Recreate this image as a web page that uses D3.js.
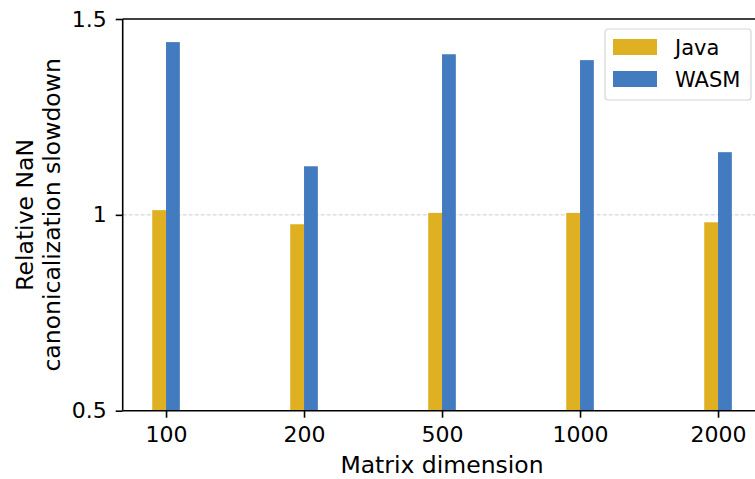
<!DOCTYPE html>
<html lang="en">

<head>
  <meta charset="UTF-8">
  <title>NaN canonicalization slowdown</title>
  <style>
    body { margin: 0; background: #fff; }
    text { font-family: "DejaVu Sans", sans-serif; fill: #000; }
  </style>
</head>

<body>
  <svg width="755" height="479"></svg>

  <script src="https://d3js.org/d3.v7.min.js"></script>
  <script>
    // data
    var dimensions = ["100", "200", "500", "1000", "2000"];
    var javaValues = [1.012, 0.976, 1.005, 1.005, 0.981];
    var wasmValues = [1.441, 1.124, 1.410, 1.395, 1.160];
    var seriesNames = ["Java", "WASM"];
    var yTicks = [0.5, 1, 1.5];
    var yTickLabels = ["0.5", "1", "1.5"];

    var colors = { Java: "#dfb122", WASM: "#427bbf" };

    var svg = d3.select("svg");

    // plot area (right side runs past the picture edge)
    var plotLeft = 122.7, plotTop = 19, plotBottom = 410.7;
    var step = 138;

    var xScale = d3.scaleLinear().domain([-0.314, 4.6]).range([plotLeft, plotLeft + 4.914 * step]);
    var yScale = d3.scaleLinear().domain([0.5, 1.5]).range([plotBottom, plotTop]);
    var barW = 0.1;

    // dashed reference line at 1
    svg.append("line")
      .attr("x1", plotLeft).attr("x2", 755)
      .attr("y1", yScale(1)).attr("y2", yScale(1))
      .attr("stroke", "#cccccc")
      .attr("stroke-width", 1)
      .attr("stroke-dasharray", "4,2");

    // bars
    var rows = dimensions.map(function (d, i) {
      return { i: i, Java: javaValues[i], WASM: wasmValues[i] };
    });

    seriesNames.forEach(function (name, k) {
      svg.append("g")
        .selectAll("rect")
        .data(rows)
        .enter()
        .append("rect")
        .attr("x", function (d) { return xScale(d.i - barW + k * barW); })
        .attr("width", function () { return xScale(barW) - xScale(0); })
        .attr("y", function (d) { return yScale(d[name]); })
        .attr("height", function (d) { return yScale(0.5) - yScale(d[name]); })
        .attr("fill", colors[name]);
    });

    // axes
    var yAxis = d3.axisLeft(yScale)
      .tickValues(yTicks)
      .tickFormat(function (d, i) { return yTickLabels[i]; })
      .tickSize(7).tickPadding(9);

    var gy = svg.append("g")
      .attr("transform", "translate(" + plotLeft + ",0)")
      .call(yAxis);

    var xAxis = d3.axisBottom(xScale)
      .tickValues(d3.range(dimensions.length))
      .tickFormat(function (d) { return dimensions[d]; })
      .tickSize(7).tickPadding(9);

    var gx = svg.append("g")
      .attr("transform", "translate(0," + plotBottom + ")")
      .call(xAxis);

    [gx, gy].forEach(function (g) {
      g.select(".domain").attr("stroke", "#000").attr("stroke-width", 1.6);
      g.selectAll(".tick line").attr("stroke", "#000").attr("stroke-width", 1.6);
      g.selectAll(".tick text")
        .style("font-size", "22px")
        .attr("fill", "#000");
    });
    gx.select(".domain").attr("d", "M" + plotLeft + ",0H760");
    gy.select(".domain").attr("d", "M0," + plotBottom + "V" + plotTop);

    // top spine
    svg.append("line")
      .attr("x1", plotLeft).attr("x2", 760)
      .attr("y1", plotTop).attr("y2", plotTop)
      .attr("stroke", "#000")
      .attr("stroke-width", 1.6);

    // axis labels
    svg.append("text")
      .attr("x", 442)
      .attr("y", 473)
      .attr("text-anchor", "middle")
      .style("font-size", "23.5px")
      .text("Matrix dimension");

    var yLabel = svg.append("text")
      .attr("transform", "translate(33," + (plotTop + plotBottom) / 2 + ")rotate(-90)")
      .attr("text-anchor", "middle")
      .style("font-size", "23.5px");
    yLabel.append("tspan").attr("x", 0).attr("y", 0).text("Relative NaN");
    yLabel.append("tspan").attr("x", 0).attr("y", 27).text("canonicalization slowdown");

    // legend
    var legend = svg.append("g").attr("transform", "translate(605,29)");
    legend.append("rect")
      .attr("width", 146).attr("height", 71)
      .attr("rx", 3)
      .attr("fill", "#fff").attr("fill-opacity", 0.8)
      .attr("stroke", "#d6d6d6").attr("stroke-width", 1.2);

    seriesNames.forEach(function (name, k) {
      legend.append("rect")
        .attr("x", 8).attr("y", 10 + k * 32)
        .attr("width", 44).attr("height", 16)
        .attr("fill", colors[name]);
      legend.append("text")
        .attr("x", 70).attr("y", 26 + k * 32)
        .style("font-size", "21px")
        .text(name);
    });
  </script>
</body>

</html>
